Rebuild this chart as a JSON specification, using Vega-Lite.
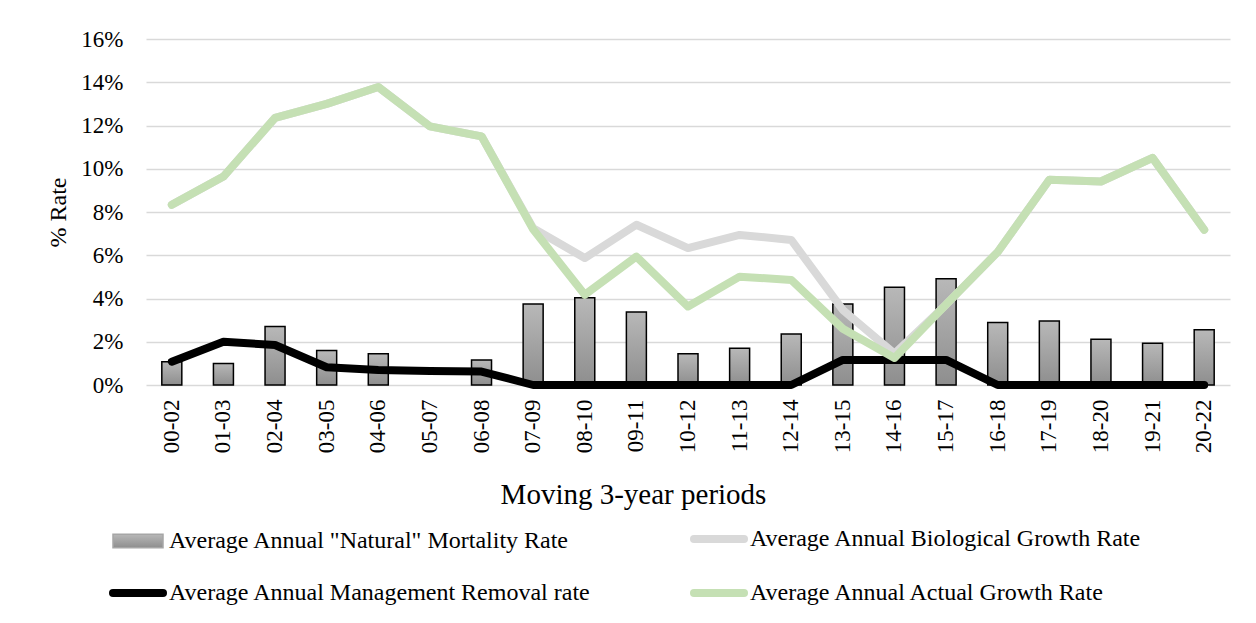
{
  "$schema": "https://vega.github.io/schema/vega-lite/v6.json",
  "width": 1084,
  "height": 346,
  "autosize": {"type": "none"},
  "padding": {"left": 146, "top": 39, "right": 26, "bottom": 238},
  "background": "white",
  "config": {
    "font": "Liberation Serif",
    "view": {"stroke": null},
    "style": {"guide-label": {"font": "Liberation Serif"}, "guide-title": {"font": "Liberation Serif"}},
    "legend": {"labelFont": "Liberation Serif"},
    "axis": {"labelFont": "Liberation Serif", "titleFont": "Liberation Serif", "labelColor": "#000", "titleColor": "#000", "ticks": false, "domain": false, "titleFontWeight": "normal"},
    "axisY": {"labelFontSize": 23, "titleFontSize": 24, "labelPadding": 23, "titlePadding": 10, "gridColor": "#d9d9d9", "gridWidth": 1.5, "tickCount": 8},
    "axisX": {"labelFontSize": 23, "labelAngle": -90, "labelPadding": 14, "titleFontSize": 29, "titleX": 487, "titleY": 118, "titleAlign": "center", "titleBaseline": "alphabetic", "grid": false}
  },
  "data": {"values": [
    {"p": "00-02", "mort": 0.0108, "bio": 0.0833, "mgmt": 0.0108, "actual": 0.0833},
    {"p": "01-03", "mort": 0.0100, "bio": 0.0964, "mgmt": 0.0200, "actual": 0.0964},
    {"p": "02-04", "mort": 0.0270, "bio": 0.1235, "mgmt": 0.0185, "actual": 0.1235},
    {"p": "03-05", "mort": 0.0159, "bio": 0.1300, "mgmt": 0.0082, "actual": 0.1300},
    {"p": "04-06", "mort": 0.0144, "bio": 0.1378, "mgmt": 0.0069, "actual": 0.1378},
    {"p": "05-07", "mort": null, "bio": 0.1196, "mgmt": 0.0065, "actual": 0.1196},
    {"p": "06-08", "mort": 0.0116, "bio": 0.1150, "mgmt": 0.0062, "actual": 0.1150},
    {"p": "07-09", "mort": 0.0374, "bio": 0.0725, "mgmt": 0, "actual": 0.0720},
    {"p": "08-10", "mort": 0.0404, "bio": 0.0587, "mgmt": 0, "actual": 0.0417},
    {"p": "09-11", "mort": 0.0337, "bio": 0.0741, "mgmt": 0, "actual": 0.0594},
    {"p": "10-12", "mort": 0.0144, "bio": 0.0633, "mgmt": 0, "actual": 0.0363},
    {"p": "11-13", "mort": 0.0170, "bio": 0.0694, "mgmt": 0, "actual": 0.0501},
    {"p": "12-14", "mort": 0.0236, "bio": 0.0671, "mgmt": 0, "actual": 0.0486},
    {"p": "13-15", "mort": 0.0375, "bio": 0.0347, "mgmt": 0.0116, "actual": 0.0260},
    {"p": "14-16", "mort": 0.0452, "bio": 0.0145, "mgmt": 0.0116, "actual": 0.0125},
    {"p": "15-17", "mort": 0.0491, "bio": 0.0372, "mgmt": 0.0116, "actual": 0.0372},
    {"p": "16-18", "mort": 0.0289, "bio": 0.0615, "mgmt": 0, "actual": 0.0615},
    {"p": "17-19", "mort": 0.0296, "bio": 0.0949, "mgmt": 0, "actual": 0.0949},
    {"p": "18-20", "mort": 0.0212, "bio": 0.0941, "mgmt": 0, "actual": 0.0941},
    {"p": "19-21", "mort": 0.0193, "bio": 0.1050, "mgmt": 0, "actual": 0.1050},
    {"p": "20-22", "mort": 0.0255, "bio": 0.0718, "mgmt": 0, "actual": 0.0718}
  ]},
  "encoding": {
    "x": {"field": "p", "type": "ordinal", "title": "Moving 3-year periods",
      "scale": {"domain": ["00-02", "01-03", "02-04", "03-05", "04-06", "05-07", "06-08", "07-09", "08-10", "09-11", "10-12", "11-13", "12-14", "13-15", "14-16", "15-17", "16-18", "17-19", "18-20", "19-21", "20-22"], "paddingInner": 0, "paddingOuter": 0}}
  },
  "layer": [
    {
      "mark": {"type": "bar", "width": 20, "stroke": "#000", "strokeWidth": 1.5,
        "fill": {"gradient": "linear", "x1": 0, "y1": 0, "x2": 0, "y2": 1, "stops": [{"offset": 0, "color": "#b8b8b8"}, {"offset": 1, "color": "#8e8e8e"}]}},
      "encoding": {"y": {"field": "mort", "type": "quantitative", "title": "% Rate", "scale": {"domain": [0, 0.16]}, "axis": {"format": ".0%"}}}
    },
    {
      "mark": {"type": "line", "strokeWidth": 8, "strokeCap": "round", "strokeJoin": "round"},
      "encoding": {
        "y": {"field": "bio", "type": "quantitative", "title": "% Rate", "axis": {"format": ".0%"}},
        "color": {"datum": "bio",
          "scale": {"domain": ["mort", "bio", "mgmt", "actual"], "range": ["#a6a6a6", "#d9d9d9", "#000000", "#c5e0b4"]},
          "legend": {
            "orient": "none", "legendX": -20, "legendY": 488, "columns": 2, "direction": "horizontal", "columnPadding": 86, "rowPadding": 22,
            "title": null, "labelFontSize": 24, "labelFont": "Liberation Serif", "labelColor": "#000", "labelOffset": 19, "labelLimit": 1000,
            "symbolSize": 2500,
            "labelExpr": "datum.value === 'mort' ? 'Average  Annual \"Natural\" Mortality Rate' : datum.value === 'bio' ? 'Average Annual Biological Growth Rate' : datum.value === 'mgmt' ? 'Average Annual Management Removal rate' : 'Average Annual Actual Growth Rate'",
            "encode": {
              "symbols": {
                "update": {
                  "shape": {"signal": "datum.value === 'mort' ? 'M-1,-0.27H1V0.27H-1Z' : 'M-1,0H1'"},
                  "fill": {"signal": "datum.value === 'mort' ? {gradient: 'linear', x1: 0, y1: 0, x2: 0, y2: 1, stops: [{offset: 0, color: '#b8b8b8'}, {offset: 1, color: '#8e8e8e'}]} : 'transparent'"},
                  "stroke": {"signal": "datum.value === 'mort' ? '#000' : datum.value === 'bio' ? '#d9d9d9' : datum.value === 'mgmt' ? '#000' : '#c5e0b4'"},
                  "strokeWidth": {"signal": "datum.value === 'mort' ? 1.5 : 8"},
                  "strokeCap": {"value": "round"},
                  "size": {"value": 2500},
                  "opacity": {"value": 1}
                }
              }
            }
          }
        }
      }
    },
    {
      "mark": {"type": "line", "strokeWidth": 8, "strokeCap": "round", "strokeJoin": "round"},
      "encoding": {
        "y": {"field": "mgmt", "type": "quantitative", "title": "% Rate", "axis": {"format": ".0%"}},
        "color": {"datum": "mgmt"}
      }
    },
    {
      "mark": {"type": "line", "strokeWidth": 8, "strokeCap": "round", "strokeJoin": "round"},
      "encoding": {
        "y": {"field": "actual", "type": "quantitative", "title": "% Rate", "axis": {"format": ".0%"}},
        "color": {"datum": "actual"}
      }
    }
  ]
}
